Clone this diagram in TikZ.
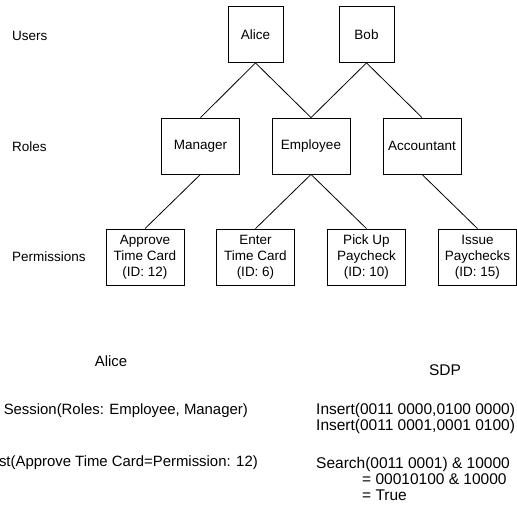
\documentclass[tikz,border=0pt]{standalone}
\usepackage{fontspec}
\setmainfont{Liberation Sans}
\begin{document}
\begin{tikzpicture}[x=1pt,y=-1pt,
  every node/.style={font=\fontsize{13.5}{16}\selectfont, inner sep=0pt},
  box/.style={draw, line width=0.8pt, align=center, minimum height=56pt},
  user/.style={box, minimum width=55pt},
  role/.style={box, minimum width=78pt},
  perm/.style={box, minimum width=78pt},
  bigl/.style={font=\fontsize{14.9}{18}\selectfont},
  bigr/.style={font=\fontsize{15.5}{18}\selectfont},
  conn/.style={line width=0.8pt}]
\useasboundingbox (0,0) rectangle (517,506);
% labels
\node[anchor=west] (lusers) at (12,36) {Users};
\node[anchor=west] (lroles) at (12,147) {Roles};
\node[anchor=west] (lperms) at (12,257) {Permissions};
% users
\node[user] (alice) at (255.5,34.5) {Alice};
\node[user] (bob) at (366.5,34.5) {Bob};
% roles
\node[role] (manager) at (200.5,146) {Manager};
\node[role] (employee) at (311,146) {Employee};
\node[role] (accountant) at (422,146) {Accountant};
% permissions
\node[perm] (approve) at (145,257) {Approve\\Time Card\\(ID: 12)};
\node[perm] (enter) at (255.5,257) {Enter\\Time Card\\(ID: 6)};
\node[perm] (pickup) at (366.5,257) {Pick Up\\Paycheck\\(ID: 10)};
\node[perm] (issue) at (477.5,257) {Issue\\Paychecks\\(ID: 15)};
% connectors
\draw[conn] (alice.south) -- (manager.north);
\draw[conn] (alice.south) -- (employee.north);
\draw[conn] (bob.south) -- (employee.north);
\draw[conn] (bob.south) -- (accountant.north);
\draw[conn] (manager.south) -- (approve.north);
\draw[conn] (employee.south) -- (enter.north);
\draw[conn] (employee.south) -- (pickup.north);
\draw[conn] (accountant.south) -- (issue.north);
% bottom texts
\node[bigl, anchor=base] (talice) at (111,366.5) {Alice};
\node[bigr, anchor=base] (tsdp) at (445,375.5) {SDP};
\node[bigl, anchor=base east] (tsession) at (248,414.5) {Session(Roles: Employee, Manager)};
\node[bigl, anchor=base east] (trequest) at (258,466.5) {st(Approve Time Card=Permission: 12)};
\node[bigr, anchor=base west] (tins1) at (316,414.5) {Insert(0011 0000,0100 0000)};
\node[bigr, anchor=base west] (tins2) at (316,430.5) {Insert(0011 0001,0001 0100)};
\node[bigr, anchor=base west] (tsearch) at (316,468.5) {Search(0011 0001) \& 10000};
\node[bigr, anchor=base west] (teq1) at (362,484.5) {= 00010100 \& 10000};
\node[bigr, anchor=base west] (teq2) at (362,500.5) {= True};
\end{tikzpicture}
\end{document}
